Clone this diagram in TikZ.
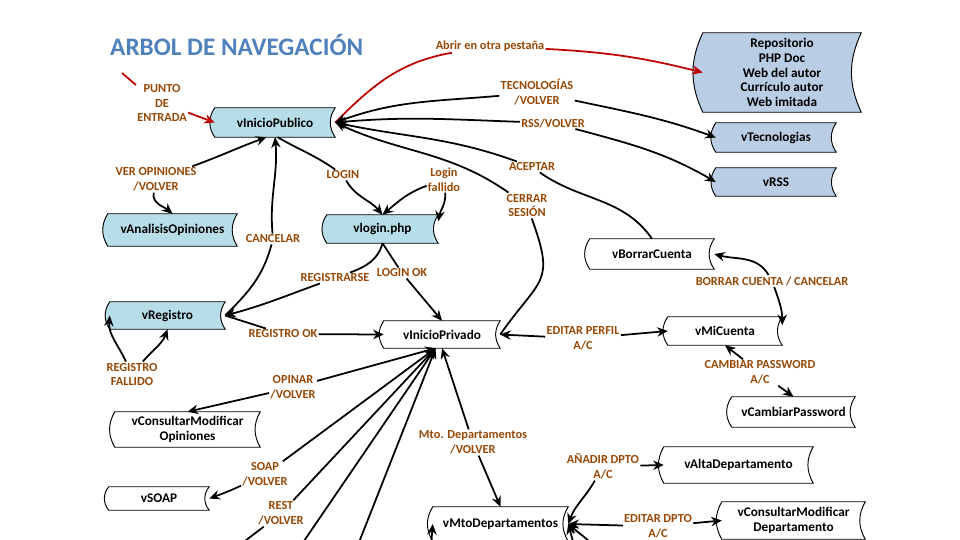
\documentclass[tikz,border=0pt]{standalone}
\usepackage{fontspec}
\setmainfont{Carlito}
\usetikzlibrary{arrows.meta,backgrounds}

\definecolor{azulclaro}{HTML}{B7DEE8}
\definecolor{azulgris}{HTML}{B9CDE5}
\definecolor{marron}{HTML}{984806}
\definecolor{titulo}{HTML}{4F81BD}
\definecolor{rojo}{HTML}{C00000}

\tikzset{
  vista/.style={inner sep=0pt, align=center, font=\bfseries\fontsize{11.3}{12.6}\selectfont},
  etiqueta/.style={inner sep=1pt, align=center, text=marron, font=\bfseries\fontsize{10.5}{12.75}\selectfont},
  linea/.style={line width=1.5pt},
  flecha/.style={line width=1.5pt, -{Stealth[length=9pt,width=8pt]}},
  ini/.style={line width=1.5pt, {Stealth[length=9pt,width=8pt]}-},
  doble/.style={line width=1.5pt, {Stealth[length=9pt,width=8pt]}-{Stealth[length=9pt,width=8pt]}},
  roja/.style={line width=1.5pt, draw=rojo, -{Stealth[length=9pt,width=8pt,color=rojo]}},
}

\begin{document}
\begin{tikzpicture}[x=0.03cm, y=0.03cm]
        \useasboundingbox (0,0) rectangle (960,-540);

        \node[anchor=west, inner sep=0pt, text=titulo, font=\bfseries\fontsize{21.5}{25}\selectfont] (titulo) at (110,-45) {ARBOL DE NAVEGACIÓN};

		% vistas
		\node[vista, minimum width=3.6cm, minimum height=0.87cm] (pub) at (275,-122.5) {vInicioPublico};
		\node[vista, minimum width=3.87cm, minimum height=0.96cm] (anal) at (172.5,-230) {vAnalisisOpiniones};
		\node[vista, minimum width=3.33cm, minimum height=0.84cm] (login) at (382.5,-229) {vlogin.php};
		\node[vista, minimum width=3.45cm, minimum height=0.81cm] (reg) at (167.5,-315.5) {vRegistro};
		\node[vista, minimum width=3.48cm, minimum height=0.81cm] (priv) at (442,-334.5) {vInicioPrivado};
		\node[vista, minimum width=3.72cm, minimum height=0.9cm] (borrar) at (652,-254) {vBorrarCuenta};
		\node[vista, minimum width=3.42cm, minimum height=0.84cm] (mi) at (725,-331) {vMiCuenta};
		\node[vista, minimum width=3.69cm, minimum height=0.9cm] (pass) at (793.5,-412) {vCambiarPassword};
		\node[vista, minimum width=4.35cm, minimum height=1.05cm] (copi) at (187.5,-429.5) {vConsultarModificar\\Opiniones};
		\node[vista, minimum width=3.0cm, minimum height=0.69cm] (soap) at (159,-498.5) {vSOAP};
		\node[vista, minimum width=4.05cm, minimum height=1.02cm] (mto) at (500.5,-524) {vMtoDepartamentos};
		\node[vista, minimum width=4.47cm, minimum height=1.08cm] (alta) at (738.5,-465) {vAltaDepartamento};
		\node[vista, minimum width=4.29cm, minimum height=1.11cm] (cdep) at (793.5,-520.5) {vConsultarModificar\\Departamento};
		\node[vista, minimum width=4.74cm, minimum height=2.37cm] (repo) at (782,-72.5) {Repositorio\\PHP Doc\\Web del autor\\Currículo autor\\Web imitada};
		\node[vista, minimum width=3.6cm, minimum height=0.87cm] (tec) at (776,-137.5) {vTecnologias};
		\node[vista, minimum width=3.6cm, minimum height=0.84cm] (rss) at (776,-182) {vRSS};

		% etiquetas
		\node[etiqueta] (tentrada) at (162,-103) {PUNTO\\DE\\ENTRADA};
		\node[etiqueta] (tabrir) at (490,-46) {Abrir en otra pestaña};
		\node[etiqueta] (ttecno) at (537,-92.5) {TECNOLOGÍAS\\/VOLVER};
		\node[etiqueta] (trss) at (553,-123) {RSS/VOLVER};
		\node[etiqueta] (tacep) at (532,-167) {ACEPTAR};
		\node[etiqueta] (tcerrar) at (527,-205.5) {CERRAR\\SESIÓN};
		\node[etiqueta] (tver) at (156,-179.5) {VER OPINIONES\\/VOLVER};
		\node[etiqueta] (tcanc) at (273,-239) {CANCELAR};
		\node[etiqueta] (tlogin) at (343,-175) {LOGIN};
		\node[etiqueta] (tfallido) at (444,-179.5) {Login\\fallido};
		\node[etiqueta] (tregistrarse) at (335,-278) {REGISTRARSE};
		\node[etiqueta] (tloginok) at (402,-273) {LOGIN OK};
		\node[etiqueta] (tregok) at (283,-334) {REGISTRO OK};
		\node[etiqueta] (tregfall) at (132,-374.5) {REGISTRO\\FALLIDO};
		\node[etiqueta] (topinar) at (293,-387.5) {OPINAR\\/VOLVER};
		\node[etiqueta] (tsoap) at (265,-474.5) {SOAP\\/VOLVER};
		\node[etiqueta] (trest) at (281,-513.5) {REST\\/VOLVER};
		\node[etiqueta] (tmtodep) at (473,-442.5) {Mto. Departamentos\\/VOLVER};
		\node[etiqueta] (tperfil) at (583,-338.5) {EDITAR PERFIL\\A/C};
		\node[etiqueta] (tborrar) at (772,-281) {BORRAR CUENTA / CANCELAR};
		\node[etiqueta] (tpass) at (760,-372.5) {CAMBIAR PASSWORD\\A/C};
		\node[etiqueta] (tanadir) at (603,-466.5) {AÑADIR DPTO\\A/C};
		\node[etiqueta] (teditdpto) at (658,-526.5) {EDITAR DPTO\\A/C};

		% extremos fuera de la hoja
		\coordinate (r1) at (122,-73);
		\coordinate (r2) at (136,-85);
		\coordinate (abajo1) at (220,-560);
		\coordinate (abajo2) at (291,-560);
		\coordinate (abajo3) at (352,-560);
		\coordinate (abajo4) at (578,-560);
		\coordinate (abajo5) at (612,-560);
		\coordinate (abajo6) at (430,-560);

		% contornos
		\begin{pgfonlayer}{background}
		\fill[white] (0,0) rectangle (960,-540);
		\foreach \n/\c/\b in {pub/azulclaro/35, anal/azulclaro/32, login/azulclaro/35, reg/azulclaro/35,
		    priv/white/35, borrar/white/35, mi/white/35, pass/white/35, copi/white/30, soap/white/40,
		    mto/white/32, alta/white/30, cdep/white/30, repo/azulgris/25, tec/azulgris/35, rss/azulgris/35}
		  \draw[line width=0.8pt, fill=\c] (\n.north west) to[bend right=\b] (\n.south west) -- (\n.south east) to[bend left=\b] (\n.north east) -- cycle;
		\end{pgfonlayer}

		% conectores
		\draw[line width=1.5pt, rojo] (r1) -- (r2);
		\draw[roja] (tentrada) -- (pub.west);
		\draw[roja] (pub.east) to[out=45,in=190] (tabrir) to[out=-3,in=166] (repo.west);

		\draw[ini] (pub.east) to[out=20,in=185] (ttecno);
		\draw[flecha] (ttecno) to[out=-12,in=160] (tec.west);
		\draw[ini] (pub.east) to[out=5,in=178] (trss);
		\draw[flecha] (trss) to[out=-15,in=150] (rss.west);
		\draw[flecha] (borrar.north) to[out=125,in=-35] (tacep) to[out=160,in=-12] (pub.east);
		\draw[flecha] (priv.east) to[out=55,in=-70,looseness=1.5] (tcerrar) to[out=145,in=-25] (pub.east);

		\draw[ini] (pub.240) to[out=200,in=20] (tver);
		\draw[flecha] (tver) to[out=-100,in=140] (anal.north);
		\draw[flecha] (reg.east) to[out=45,in=-105] (tcanc) to[out=95,in=-85] (pub.south);
		\draw[flecha] (pub.280) to[out=-30,in=145] (tlogin) to[out=-60,in=130] (login.north);
		\draw[ini] (login.north) to[out=40,in=200] (tfallido);
		\draw[flecha] (tfallido) to[out=-85,in=80] ([yshift=-0.2cm]login.north east);

		\draw[flecha] (login.south) to[out=-105,in=20] (tregistrarse) to[out=200,in=15] (reg.east);
		\draw[flecha] (login.south) -- (tloginok) -- (priv.north);
		\draw[flecha] (reg.east) -- (tregok) -- (priv.west);
		\draw[ini] (reg.west) to[out=-95,in=115] (tregfall);
		\draw[flecha] (tregfall) to[out=50,in=-110] (reg.south);

		\draw[ini] (priv.245) -- (topinar);
		\draw[flecha] (topinar) -- (copi.north);
		\draw[ini] (priv.245) -- (tsoap);
		\draw[flecha] (tsoap) to[out=205,in=20] (soap.east);
		\draw[ini] (priv.245) -- (trest);
		\draw[flecha] (trest) -- (abajo1);
		\draw[doble] (priv.245) -- (abajo2);
		\draw[doble] (priv.245) -- (abajo3);
		\draw[ini] (priv.south) -- (tmtodep);
		\draw[flecha] (tmtodep) -- (mto.north);

		\draw[ini] (priv.east) -- (tperfil);
		\draw[flecha] (tperfil) -- (mi.west);
		\draw[ini] (borrar.east) to[out=-15,in=120] (tborrar);
		\draw[flecha] (tborrar) to[out=-70,in=90] ([yshift=-0.25cm]mi.north east);
		\draw[ini] (mi.south) -- (tpass);
		\draw[flecha] (tpass) -- (pass.north);

		\draw[ini] (mto.east) to[out=70,in=-120] (tanadir);
		\draw[flecha] (tanadir) -- (alta.west);
		\draw[ini] (mto.east) -- (teditdpto);
		\draw[flecha] (teditdpto) -- (cdep.west);
		\draw[flecha] (abajo4) -- (mto.east);
		\draw[flecha] (abajo5) -- (mto.east);
		\draw[flecha] (abajo6) -- (mto.west);
    \end{tikzpicture}
\end{document}
